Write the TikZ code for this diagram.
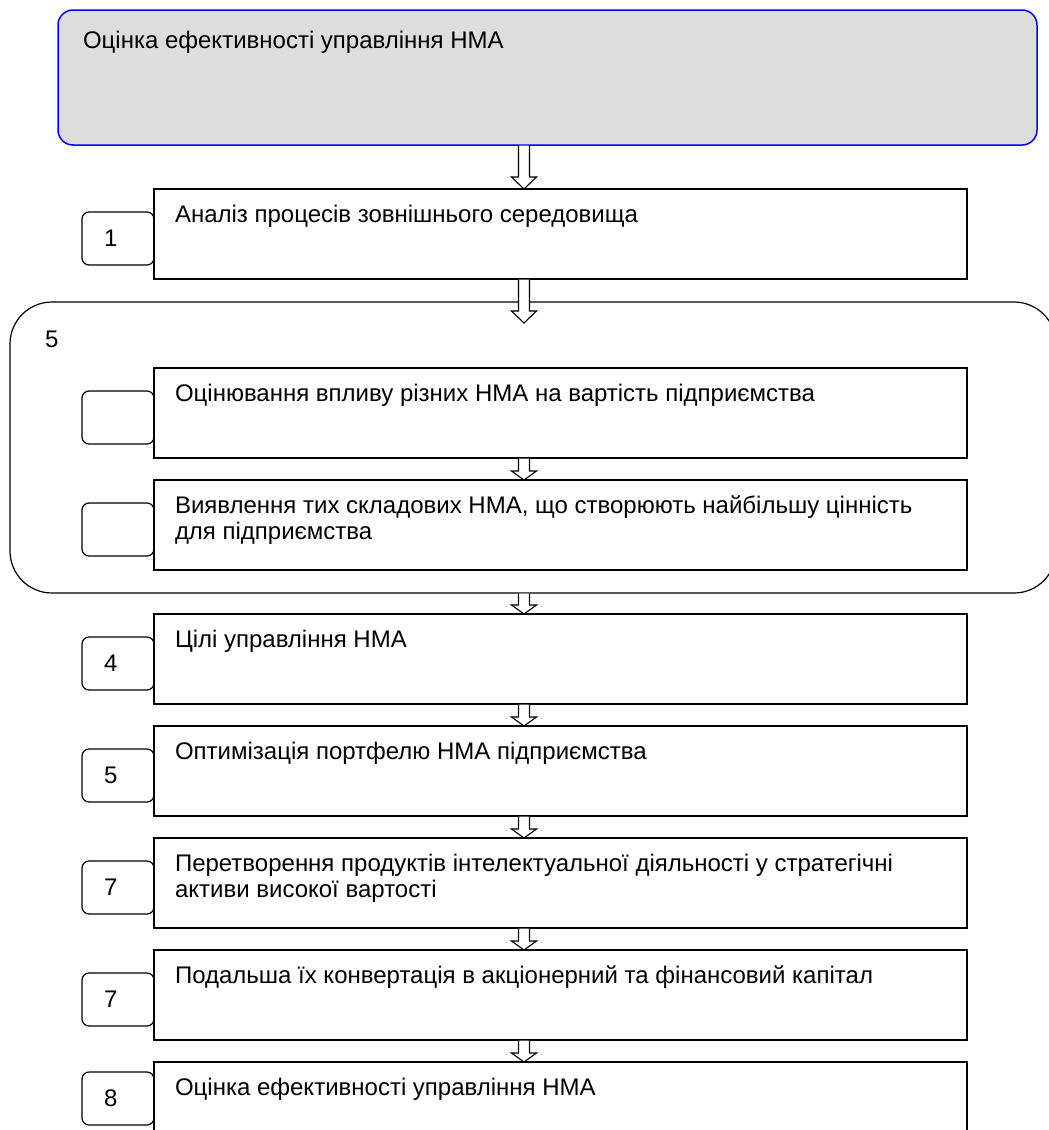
\documentclass[tikz,border=0pt]{standalone}
\usepackage{fontspec}
\setmainfont{Liberation Sans}
\usetikzlibrary{calc}
\definecolor{boxgray}{HTML}{DDDDDD}
\definecolor{edgeblue}{HTML}{0000FF}
\begin{document}
\begin{tikzpicture}[x=1pt,y=-1pt,
  every node/.style={inner sep=0pt, outer sep=0pt},
  txt/.style={anchor=base west, font=\fontsize{24}{26}\selectfont, align=left},
  digit/.style={anchor=west, font=\fontsize{24}{26}\selectfont},
  mainbox/.style={draw=black, line width=1.2pt, minimum width=813pt, minimum height=90pt, anchor=north west},
  numbox/.style={draw=black, line width=1.2pt, rounded corners=7pt, minimum width=72pt, minimum height=53pt, anchor=north west},
  bigarrow/.style={draw=black, fill=white, line width=1.1pt, line join=miter,
    to path={let \p1=(\tikztostart), \p2=(\tikztotarget) in
      (\x1-5.5pt,\y1-0.6pt) -- (\x1-5.5pt,\y2+12pt) -- (\x1-12.5pt,\y2+12pt) -- (\x1,\y2)
      -- (\x1+12.5pt,\y2+12pt) -- (\x1+5.5pt,\y2+12pt) -- (\x1+5.5pt,\y1-0.6pt)}},
  smallarrow/.style={draw=black, fill=white, line width=1.1pt, line join=miter,
    to path={let \p1=(\tikztostart), \p2=(\tikztotarget) in
      (\x1-5.5pt,\y1-0.6pt) -- (\x1-5.5pt,\y2+9pt) -- (\x1-12.5pt,\y2+9pt) -- (\x1,\y2)
      -- (\x1+12.5pt,\y2+9pt) -- (\x1+5.5pt,\y2+9pt) -- (\x1+5.5pt,\y1-0.6pt)}}
]
\useasboundingbox (0,0) rectangle (1049,1130);
\clip (0,0) rectangle (1049,1130);

% top box
\node[draw=edgeblue, fill=boxgray, line width=1.5pt, rounded corners=15pt,
      minimum width=979pt, minimum height=135pt, anchor=north west] (top) at (58,10) {};
\node[txt] (ttop) at (83,48) {Оцінка ефективності управління НМА};

% box 1
\node[mainbox] (b1) at (154,189) {};
\node[numbox] (n1) at (82,212) {};
\node[digit] (d1) at ([xshift=22pt]n1.west) {1};
\node[txt] (t1) at (175,222) {Аналіз процесів зовнішнього середовища};

% group container
\node[draw=black, line width=1.2pt, rounded corners=42pt,
      minimum width=1046pt, minimum height=291pt, anchor=north west] (grp) at (10,302) {};
\node[txt] (g5) at (45,347) {5};

\node[mainbox] (bA) at (154,368) {};
\node[numbox] (nA) at (82,391) {};
\node[txt] (tA) at (175,401) {Оцінювання впливу різних НМА на вартість підприємства};

\node[mainbox] (bB) at (154,480) {};
\node[numbox] (nB) at (82,503) {};
\node[txt] (tB) at (175,539) {Виявлення тих складових НМА, що створюють найбільшу цінність\\для підприємства};

% box 4
\node[mainbox] (b4) at (154,614) {};
\node[numbox] (n4) at (82,637) {};
\node[digit] (d4) at ([xshift=22pt]n4.west) {4};
\node[txt] (t4) at (175,647) {Цілі управління НМА};

% box 5
\node[mainbox] (b5) at (154,726) {};
\node[numbox] (n5) at (82,749) {};
\node[digit] (d5) at ([xshift=22pt]n5.west) {5};
\node[txt] (t5) at (175,759) {Оптимізація портфелю НМА підприємства};

% box 6
\node[mainbox] (b6) at (154,838) {};
\node[numbox] (n6) at (82,861) {};
\node[digit] (d6) at ([xshift=22pt]n6.west) {7};
\node[txt] (t6) at (175,897) {Перетворення продуктів інтелектуальної діяльності у стратегічні\\активи високої вартості};

% box 7
\node[mainbox] (b7) at (154,950) {};
\node[numbox] (n7) at (82,973) {};
\node[digit] (d7) at ([xshift=22pt]n7.west) {7};
\node[txt] (t7) at (175,983) {Подальша їх конвертація в акціонерний та фінансовий капітал};

% box 8
\node[mainbox] (b8) at (154,1062) {};
\node[numbox] (n8) at (82,1072) {};
\node[digit] (d8) at ([xshift=22pt]n8.west) {8};
\node[txt] (t8) at (175,1095) {Оцінка ефективності управління НМА};

% arrows
\coordinate (ax) at (524,0);
\coordinate (a2end) at (524,323);
\draw[bigarrow] (ax |- top.south) to (ax |- b1.north);
\draw[bigarrow] (ax |- b1.south) to (a2end);
\draw[smallarrow] (ax |- bA.south) to (ax |- bB.north);
\draw[smallarrow] (ax |- grp.south) to (ax |- b4.north);
\draw[smallarrow] (ax |- b4.south) to (ax |- b5.north);
\draw[smallarrow] (ax |- b5.south) to (ax |- b6.north);
\draw[smallarrow] (ax |- b6.south) to (ax |- b7.north);
\draw[smallarrow] (ax |- b7.south) to (ax |- b8.north);
\end{tikzpicture}
\end{document}
